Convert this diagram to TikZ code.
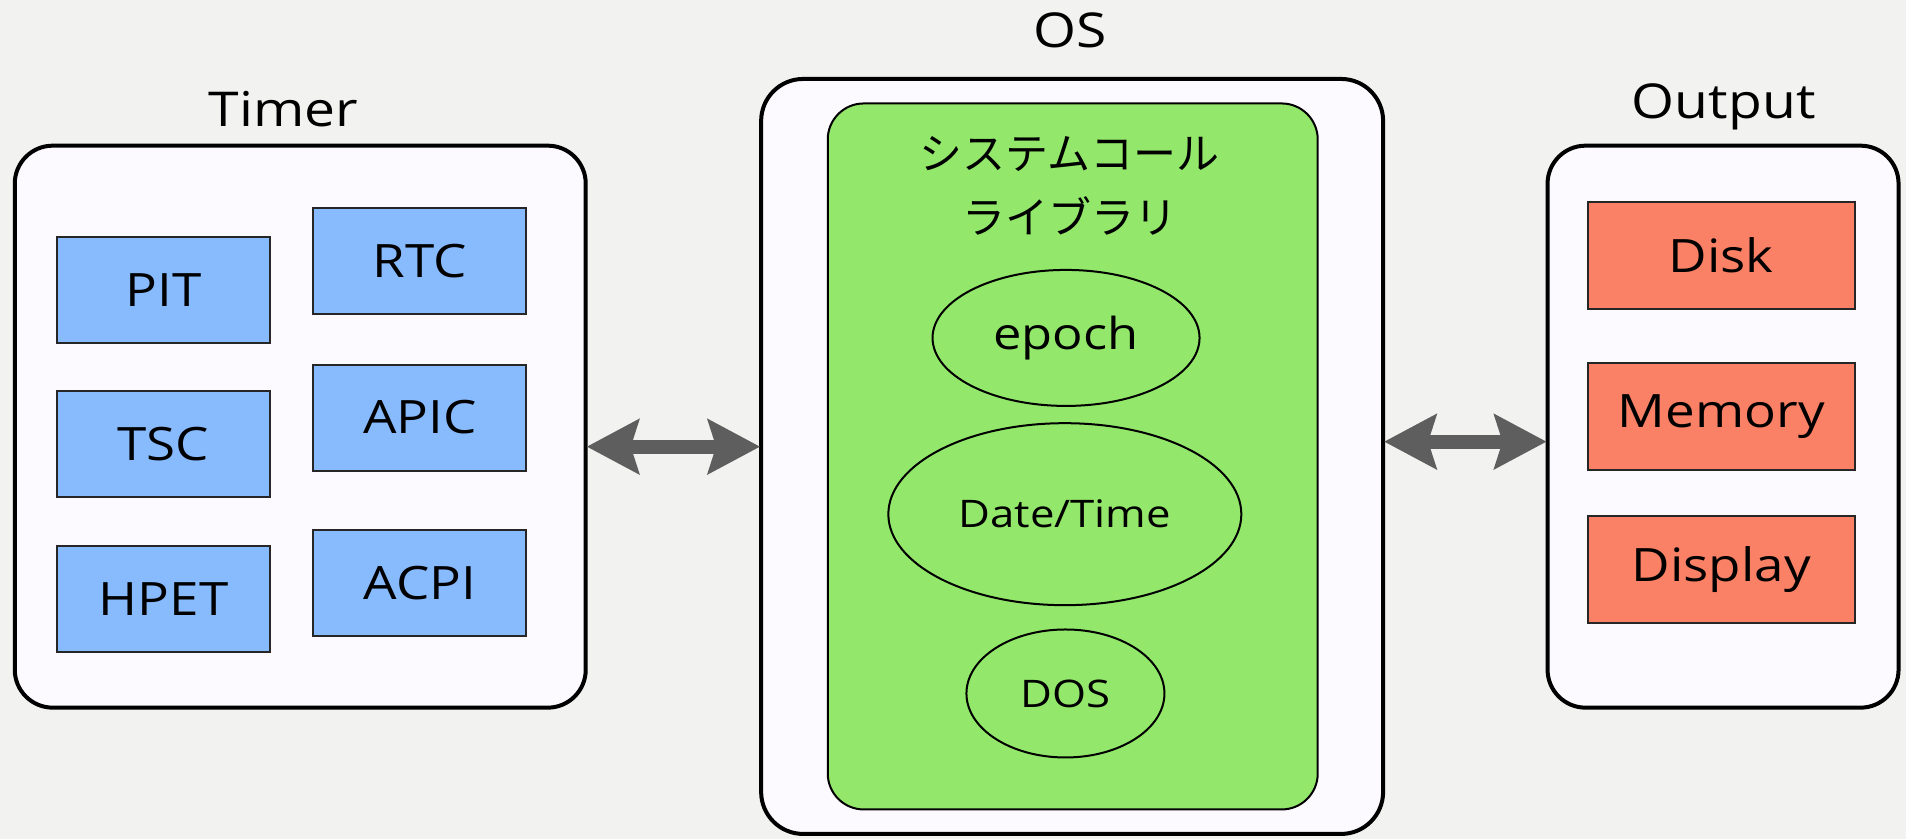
\documentclass[tikz,border=0pt]{standalone}
\usepackage{fontspec}
\setmainfont{Open Sans}[FakeStretch=1.15]
\newfontfamily\jp{Noto Sans CJK JP}
\usetikzlibrary{arrows.meta,shapes.geometric}
\definecolor{bgc}{HTML}{F2F2F1}
\definecolor{boxfill}{HTML}{FDFAFF}
\definecolor{bluec}{HTML}{88BAFE}
\definecolor{greenc}{HTML}{93E86B}
\definecolor{redc}{HTML}{FA8066}
\definecolor{arrowc}{HTML}{5E5E5E}
\tikzset{
  group/.style={draw=black, line width=4pt, fill=boxfill, rounded corners=38pt, inner sep=0pt},
  blk/.style={draw=black!85, line width=2pt, minimum width=213pt, minimum height=106pt, inner sep=0pt, font=\fontsize{46}{54}\selectfont},
  bluebox/.style={blk, fill=bluec},
  redbox/.style={blk, fill=redc, minimum width=267pt, minimum height=107pt},
  oval/.style={ellipse, draw=black, line width=2pt, inner sep=0pt},
  title/.style={font=\fontsize{48}{56}\selectfont, inner sep=0pt},
  biarrow/.style={draw=arrowc, line width=14pt, {Stealth[length=52pt,width=54pt,inset=8pt]}-{Stealth[length=52pt,width=54pt,inset=8pt]}, shorten <=-1pt, shorten >=-1pt}
}
\begin{document}
\begin{tikzpicture}[x=1.2156pt,y=-1.2156pt]
\fill[bgc] (0,0) rectangle (1568,690);
\useasboundingbox (0,0) rectangle (1568,690);

% Timer group
\node[group, minimum width=571pt, minimum height=562pt] (timer) at (247,351) {};
\node[title] (timerlbl) at (233,90) {Timer};
\node[bluebox] (pit)  at (134.5,238.5) {PIT};
\node[bluebox] (rtc)  at (345.5,214.5) {RTC};
\node[bluebox] (tsc)  at (134.5,365.5) {TSC};
\node[bluebox] (apic) at (345.5,343.5) {APIC};
\node[bluebox] (hpet) at (134.5,492.5) {HPET};
\node[bluebox] (acpi) at (345.5,479.5) {ACPI};

% OS group
\node[group, minimum width=622pt, minimum height=755pt, rounded corners=42pt] (os) at (882,375.5) {};
\node[title] (oslbl) at (880,25) {OS};
\node[draw=black, line width=2pt, fill=greenc, rounded corners=36pt, minimum width=490pt, minimum height=706pt, inner sep=0pt] (lib) at (882.5,375.5) {};
\node[font=\jp\fontsize{43}{64}\selectfont, align=center, inner sep=0pt] (libtitle) at (880,153) {システムコール\\ライブラリ};
\node[oval, minimum width=267pt, minimum height=136pt, font=\fontsize{44}{52}\selectfont] (epoch) at (877,278) {epoch};
\node[oval, minimum width=353pt, minimum height=182pt, font=\fontsize{38}{46}\selectfont] (datetime) at (876,423) {Date/Time};
\node[oval, minimum width=198pt, minimum height=128pt, font=\fontsize{38}{46}\selectfont] (dos) at (876.5,570.5) {DOS};

% Output group
\node[group, minimum width=351pt, minimum height=562pt] (out) at (1417.5,351) {};
\node[title] (outlbl) at (1418,88) {Output};
\node[redbox] (disk)    at (1416,210) {Disk};
\node[redbox] (memory)  at (1416,343) {Memory};
\node[redbox] (display) at (1416,468.5) {Display};

% connectors
\draw[biarrow] ([yshift=-20pt]timer.east) -- ([yshift=-20pt]timer.east -| os.west);
\draw[biarrow] ([yshift=-15pt]out.west -| os.east) -- ([yshift=-15pt]out.west);
\end{tikzpicture}
\end{document}
